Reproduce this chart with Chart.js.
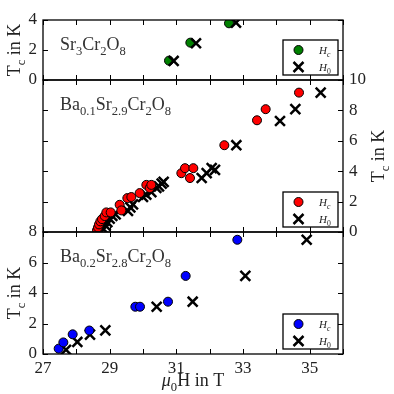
<!DOCTYPE html>
<html>
<head>
<meta charset="utf-8">
<script src="https://cdn.jsdelivr.net/npm/chart.js@4.4.0/dist/chart.umd.min.js"></script>
<style>
  body { margin: 0; background: #fff; }
  #wrap { position: relative; width: 394px; height: 394px; }
  canvas { position: absolute; left: 0; top: 0; }
</style>
</head>
<body>
<div id="wrap">
  <canvas id="panel1" width="394" height="394"></canvas>
  <canvas id="panel2" width="394" height="394"></canvas>
  <canvas id="panel3" width="394" height="394"></canvas>
</div>
<script>
// Shared axis data
const xTicks = [27, 28, 29, 30, 31, 32, 33, 34, 35, 36];
const xTickLabels = ['27', '29', '31', '33', '35'];

// Sr3Cr2O8
const sr3HcField = [30.78, 31.42, 32.58];
const sr3HcTemp = [1.29, 2.49, 3.78];
const sr3H0Field = [30.92, 31.59, 32.79];
const sr3H0Temp = [1.27, 2.45, 3.82];
const sr3Ticks = [0, 2, 4];

// Ba0.1Sr2.9Cr2O8
const ba01HcField = [28.62, 28.65, 28.68, 28.72, 28.77, 28.85, 28.90, 29.03, 29.30, 29.35, 29.53, 29.65,
  29.90, 30.10, 30.20, 30.25, 31.15, 31.26, 31.41, 31.51, 32.44, 33.42, 33.68, 34.68];
const ba01HcTemp = [0.12, 0.30, 0.50, 0.70, 0.85, 1.05, 1.29, 1.29, 1.79, 1.42, 2.23, 2.30,
  2.56, 3.10, 2.89, 3.10, 3.87, 4.20, 3.55, 4.20, 5.71, 7.35, 8.08, 9.17];
const ba01H0Field = [28.82, 28.88, 28.93, 29.00, 29.08, 29.18, 29.55, 29.62, 29.70, 30.00, 30.10, 30.25,
  30.40, 30.48, 30.56, 30.62, 31.76, 31.91, 32.06, 32.16, 32.80, 34.11, 34.57, 35.33];
const ba01H0Temp = [0.18, 0.42, 0.65, 0.88, 1.05, 1.15, 1.38, 1.62, 1.82, 2.30, 2.45, 2.62,
  2.90, 3.00, 3.18, 3.30, 3.55, 3.87, 4.20, 4.09, 5.71, 7.30, 8.08, 9.17];
const ba01Ticks = [0, 2, 4, 6, 8, 10];

// Ba0.2Sr2.8Cr2O8
const ba02HcField = [27.47, 27.61, 27.89, 28.39, 29.77, 29.91, 30.75, 31.28, 32.83];
const ba02HcTemp = [0.35, 0.76, 1.29, 1.54, 3.10, 3.10, 3.43, 5.12, 7.49];
const ba02H0Field = [27.69, 28.03, 28.41, 28.87, 30.41, 31.49, 33.07, 34.91];
const ba02H0Temp = [0.28, 0.79, 1.27, 1.55, 3.10, 3.43, 5.12, 7.49];
const ba02Ticks = [0, 2, 4, 6, 8];

const SERIF = '"Liberation Serif", "DejaVu Serif", serif';

// Helpers
function toPoints(xs, ys) {
  return xs.map((x, i) => ({ x: x, y: ys[i] }));
}

function fontFor(kind, size) {
  const sub = kind.includes('s');
  const italic = kind.includes('i') ? 'italic ' : '';
  return italic + (sub ? size * 0.7 : size) + 'px ' + SERIF;
}

// draws text runs with subscripts, centred or left aligned on (x, y)
function drawRich(ctx, parts, x, y, size, align) {
  ctx.save();
  ctx.textBaseline = 'alphabetic';
  ctx.textAlign = 'left';
  let total = 0;
  parts.forEach(p => {
    ctx.font = fontFor(p[1], size);
    total += ctx.measureText(p[0]).width;
  });
  let cx = align === 'center' ? x - total / 2 : x;
  parts.forEach(p => {
    ctx.font = fontFor(p[1], size);
    const dy = p[1].includes('s') ? size * 0.28 : 0;
    ctx.fillText(p[0], cx, y + dy);
    cx += ctx.measureText(p[0]).width;
  });
  ctx.restore();
}

function drawRotated(ctx, parts, x, y, size) {
  ctx.save();
  ctx.translate(x, y);
  ctx.rotate(-Math.PI / 2);
  drawRich(ctx, parts, 0, size * 0.35, size, 'center');
  ctx.restore();
}

const tcTitle = [['T', 'n'], ['c', 's'], [' in K', 'n']];

function panelPlugin(panel) {
  return {
    id: 'panelDecor' + panel.id,
    afterDraw(chart) {
      const ctx = chart.ctx;
      const area = chart.chartArea;
      const xs = chart.scales.x;
      const ys = chart.scales.y;
      ctx.save();
      ctx.strokeStyle = '#000';
      ctx.fillStyle = '#222';

      // inward ticks on all sides
      ctx.lineWidth = 1;
      ctx.beginPath();
      xTicks.forEach(v => {
        const px = Math.round(xs.getPixelForValue(v)) + 0.5;
        ctx.moveTo(px, area.top); ctx.lineTo(px, area.top + 5);
        ctx.moveTo(px, area.bottom); ctx.lineTo(px, area.bottom - 5);
      });
      panel.yTicks.forEach(v => {
        const py = Math.round(ys.getPixelForValue(v)) + 0.5;
        ctx.moveTo(area.left, py); ctx.lineTo(area.left + 5, py);
        ctx.moveTo(area.right, py); ctx.lineTo(area.right - 5, py);
      });
      ctx.stroke();

      // frame
      ctx.lineWidth = 1.3;
      ctx.strokeRect(area.left, area.top, area.right - area.left, area.bottom - area.top);

      // compound label
      ctx.fillStyle = '#333';
      drawRich(ctx, panel.label, area.left + 17, area.top + 30, 18, 'left');

      // axis titles
      ctx.fillStyle = '#222';
      if (panel.leftTitle) drawRotated(ctx, tcTitle, 14, (area.top + area.bottom) / 2, 18);
      if (panel.rightTitle) drawRotated(ctx, tcTitle, 378, (area.top + area.bottom) / 2, 18);
      if (panel.xTitle) {
        drawRich(ctx, [['μ', 'i'], ['0', 's'], ['H in T', 'n']], (area.left + area.right) / 2, 386, 18, 'center');
      }

      // legend box
      const bx = area.right - 60, by = area.bottom - 40, bw = 55, bh = 35;
      ctx.fillStyle = '#fff';
      ctx.fillRect(bx, by, bw, bh);
      ctx.lineWidth = 1.3;
      ctx.strokeRect(bx, by, bw, bh);
      const mx = bx + 15.5;
      ctx.beginPath();
      ctx.arc(mx, by + 10, 4.5, 0, Math.PI * 2);
      ctx.fillStyle = panel.color;
      ctx.fill();
      ctx.lineWidth = 1;
      ctx.stroke();
      ctx.beginPath();
      ctx.lineWidth = 2.5;
      ctx.moveTo(mx - 5, by + 22); ctx.lineTo(mx + 5, by + 32);
      ctx.moveTo(mx - 5, by + 32); ctx.lineTo(mx + 5, by + 22);
      ctx.stroke();
      ctx.fillStyle = '#222';
      drawRich(ctx, [['H', 'i'], ['c', 'si']], bx + 36, by + 14, 11, 'left');
      drawRich(ctx, [['H', 'i'], ['0', 's']], bx + 36, by + 31, 11, 'left');
      ctx.restore();
    }
  };
}

function makePanel(panel) {
  const circles = {
    label: 'Hc',
    data: toPoints(panel.hcField, panel.hcTemp),
    pointStyle: 'circle',
    pointRadius: 4.5,
    backgroundColor: panel.color,
    borderColor: '#000',
    borderWidth: 1,
    order: panel.crossOnTop ? 1 : 0
  };
  const crosses = {
    label: 'H0',
    data: toPoints(panel.h0Field, panel.h0Temp),
    pointStyle: 'crossRot',
    pointRadius: 7,
    backgroundColor: '#000',
    borderColor: '#000',
    borderWidth: 2.5,
    order: panel.crossOnTop ? 0 : 1
  };

  new Chart(document.getElementById(panel.canvas), {
    type: 'scatter',
    data: { datasets: [circles, crosses] },
    options: {
      responsive: false,
      animation: false,
      devicePixelRatio: 1,
      layout: { padding: panel.padding },
      plugins: { legend: { display: false }, tooltip: { enabled: false } },
      scales: {
        x: {
          type: 'linear',
          min: 27,
          max: 36,
          display: panel.xTitle,
          grid: { display: false, drawTicks: false },
          border: { display: false },
          ticks: {
            stepSize: 1,
            autoSkip: false,
            maxRotation: 0,
            padding: 4,
            color: '#222',
            font: { family: SERIF, size: 17 },
            callback: v => xTickLabels.includes(String(v)) ? String(v) : ''
          },
          afterFit: s => { s.height = panel.xTitle ? 40 : 0; }
        },
        y: {
          type: 'linear',
          position: panel.rightTitle ? 'right' : 'left',
          min: panel.yTicks[0],
          max: panel.yTicks[panel.yTicks.length - 1],
          grid: { display: false, drawTicks: false },
          border: { display: false },
          ticks: {
            stepSize: 2,
            autoSkip: false,
            padding: 6,
            color: '#222',
            font: { family: SERIF, size: 17 }
          },
          afterFit: s => { s.width = panel.rightTitle ? 51 : 43; }
        }
      }
    },
    plugins: [panelPlugin(panel)]
  });
}

// Build the three panels
makePanel({
  id: 1, canvas: 'panel1', color: '#008000', crossOnTop: true,
  hcField: sr3HcField, hcTemp: sr3HcTemp, h0Field: sr3H0Field, h0Temp: sr3H0Temp,
  yTicks: sr3Ticks, leftTitle: true, rightTitle: false, xTitle: false,
  padding: { top: 20, bottom: 314, left: 0, right: 51 },
  label: [['Sr', 'n'], ['3', 's'], ['Cr', 'n'], ['2', 's'], ['O', 'n'], ['8', 's']]
});

makePanel({
  id: 2, canvas: 'panel2', color: '#ff0000', crossOnTop: false,
  hcField: ba01HcField, hcTemp: ba01HcTemp, h0Field: ba01H0Field, h0Temp: ba01H0Temp,
  yTicks: ba01Ticks, leftTitle: false, rightTitle: true, xTitle: false,
  padding: { top: 80, bottom: 162, left: 43, right: 0 },
  label: [['Ba', 'n'], ['0.1', 's'], ['Sr', 'n'], ['2.9', 's'], ['Cr', 'n'], ['2', 's'], ['O', 'n'], ['8', 's']]
});

makePanel({
  id: 3, canvas: 'panel3', color: '#0000ff', crossOnTop: false,
  hcField: ba02HcField, hcTemp: ba02HcTemp, h0Field: ba02H0Field, h0Temp: ba02H0Temp,
  yTicks: ba02Ticks, leftTitle: true, rightTitle: false, xTitle: true,
  padding: { top: 232, bottom: 0, left: 0, right: 51 },
  label: [['Ba', 'n'], ['0.2', 's'], ['Sr', 'n'], ['2.8', 's'], ['Cr', 'n'], ['2', 's'], ['O', 'n'], ['8', 's']]
});
</script>
</body>
</html>
